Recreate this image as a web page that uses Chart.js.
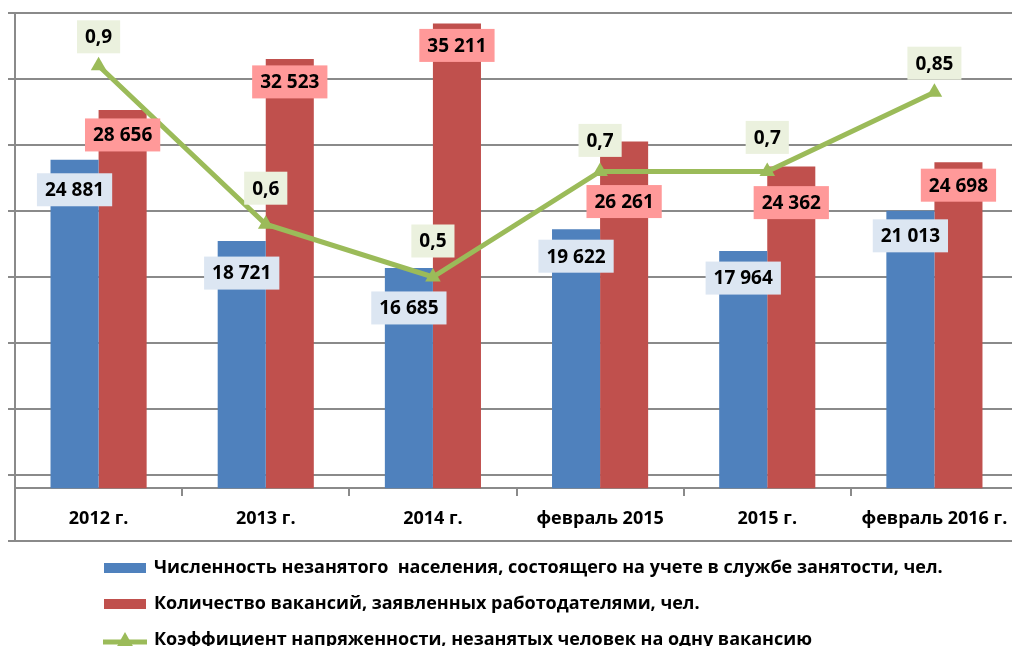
<!DOCTYPE html>
<html lang="ru">
<head>
<meta charset="utf-8">
<title>Численность незанятого населения и вакансии</title>
<script src="https://cdn.jsdelivr.net/npm/chart.js@4.4.1/dist/chart.umd.min.js"></script>
<style>
  html, body { margin: 0; padding: 0; overflow: hidden; background: #fff; }
  #wrap { position: absolute; left: 0; top: 0; }
</style>
</head>
<body>
<div id="wrap"><canvas id="chart" width="1030" height="660"></canvas></div>
<script>
const categories = ['2012 г.', '2013 г.', '2014 г.', 'февраль 2015', '2015 г.', 'февраль 2016 г.'];
const unemployed = [24881, 18721, 16685, 19622, 17964, 21013];
const vacancies = [28656, 32523, 35211, 26261, 24362, 24698];
const tension = [0.9, 0.6, 0.5, 0.7, 0.7, 0.85];

const seriesNames = [
  'Численность незанятого  населения, состоящего на учете в службе занятости, чел.',
  'Количество вакансий, заявленных работодателями, чел.',
  'Коэффициент напряженности, незанятых человек на одну вакансию'
];

const BLUE = '#4f81bd';
const RED = '#c0504d';
const GREEN = '#9bbb59';
const GRID = '#8a8a8a';
const FONT = '"Open Sans", "Noto Sans", sans-serif';

// thousands with a space, decimals with a comma (ru)
const fmtInt = (v) => String(v).replace(/\B(?=(\d{3})+(?!\d))/g, ' ');
const fmtDec = (v) => String(v).replace('.', ',');

// legend glyphs like Excel: flat box for bars, line with triangle for the line
function boxGlyph(color) {
  const c = document.createElement('canvas');
  c.width = 42; c.height = 10;
  const g = c.getContext('2d');
  g.fillStyle = color;
  g.fillRect(0, 0, 42, 10);
  return c;
}
function lineGlyph(color) {
  const c = document.createElement('canvas');
  c.width = 44; c.height = 18;
  const g = c.getContext('2d');
  g.strokeStyle = color;
  g.lineWidth = 5;
  g.beginPath(); g.moveTo(0, 11); g.lineTo(44, 11); g.stroke();
  g.fillStyle = color;
  g.beginPath(); g.moveTo(22, 1); g.lineTo(31, 17); g.lineTo(13, 17); g.closePath(); g.fill();
  return c;
}
const glyphs = [boxGlyph(BLUE), boxGlyph(RED), lineGlyph(GREEN)];

// boxed value labels
const valueLabels = {
  id: 'valueLabels',
  afterDatasetsDraw(chart) {
    const ctx = chart.ctx;
    ctx.save();
    ctx.font = 'bold 19px ' + FONT;
    ctx.textAlign = 'center';
    ctx.textBaseline = 'middle';
    chart.data.datasets.forEach((ds, i) => {
      const meta = chart.getDatasetMeta(i);
      meta.data.forEach((el, j) => {
        const text = ds.fmt(ds.data[j]);
        const w = ctx.measureText(text).width + 16;
        const h = 33;
        const cx = el.x;
        const cy = el.y + ds.labelDy[j];
        ctx.fillStyle = ds.labelBg;
        ctx.fillRect(cx - w / 2, cy - h / 2, w, h);
        ctx.fillStyle = '#000';
        ctx.fillText(text, cx, cy + 1);
      });
    });
    ctx.restore();
  }
};

// Excel puts the legend block indented, not flush left
const legendIndent = {
  id: 'legendIndent',
  afterLayout(chart) {
    chart.legend.left += 79;
    chart.legend.right += 79;
  }
};

new Chart(document.getElementById('chart'), {
  type: 'bar',
  data: {
    labels: categories,
    datasets: [
      {
        label: seriesNames[0],
        data: unemployed,
        backgroundColor: BLUE,
        yAxisID: 'y',
        order: 2,
        fmt: fmtInt,
        labelBg: '#dce6f2',
        labelDy: [30, 32, 40, 27, 27, 25],
      },
      {
        label: seriesNames[1],
        data: vacancies,
        backgroundColor: RED,
        yAxisID: 'y',
        order: 3,
        fmt: fmtInt,
        labelBg: '#ff9999',
        labelDy: [25, 23, 22, 60, 36, 23],
      },
      {
        type: 'line',
        label: seriesNames[2],
        data: tension,
        borderColor: GREEN,
        backgroundColor: GREEN,
        borderWidth: 5,
        pointStyle: 'triangle',
        pointRadius: 9,
        pointBorderWidth: 0,
        tension: 0,
        yAxisID: 'y1',
        order: 1,
        fmt: fmtDec,
        labelBg: '#ebf1de',
        labelDy: [-29, -36, -36, -31, -34, -29],
      },
    ],
  },
  options: {
    responsive: false,
    animation: false,
    categoryPercentage: 0.575,
    barPercentage: 1,
    layout: { padding: { left: 8, top: 13, right: 12, bottom: 1 } },
    scales: {
      x: {
        position: { y: 0 },
        offset: true,
        grid: {
          offset: true,
          drawOnChartArea: false,
          drawTicks: true,
          tickLength: 7,
          color: GRID,
          lineWidth: 2,
        },
        border: { color: GRID, width: 2 },
        ticks: {
          color: '#000',
          font: { family: FONT, size: 18, weight: 'bold' },
          padding: 13,
          maxRotation: 0,
          autoSkip: false,
        },
      },
      y: {
        display: false,
        min: -4000,
        max: 36000,
      },
      y1: {
        position: 'left',
        min: 0,
        max: 1,
        ticks: { display: false, stepSize: 0.125 },
        grid: { color: GRID, lineWidth: 2, tickLength: 7 },
        border: { color: GRID, width: 2 },
      },
    },
    plugins: {
      tooltip: { enabled: false },
      legend: {
        position: 'bottom',
        align: 'start',
        labels: {
          usePointStyle: true,
          pointStyleWidth: 40,
          boxHeight: 18,
          padding: 18,
          color: '#000',
          font: { family: FONT, size: 18, weight: 'bold' },
          generateLabels: (chart) => chart.data.datasets.map((ds, i) => ({
            text: ds.label,
            fillStyle: ds.backgroundColor,
            strokeStyle: ds.backgroundColor,
            lineWidth: 0,
            pointStyle: glyphs[i],
            fontColor: '#000',
            hidden: false,
            datasetIndex: i,
          })),
        },
      },
    },
  },
  plugins: [valueLabels, legendIndent],
});
</script>
</body>
</html>
